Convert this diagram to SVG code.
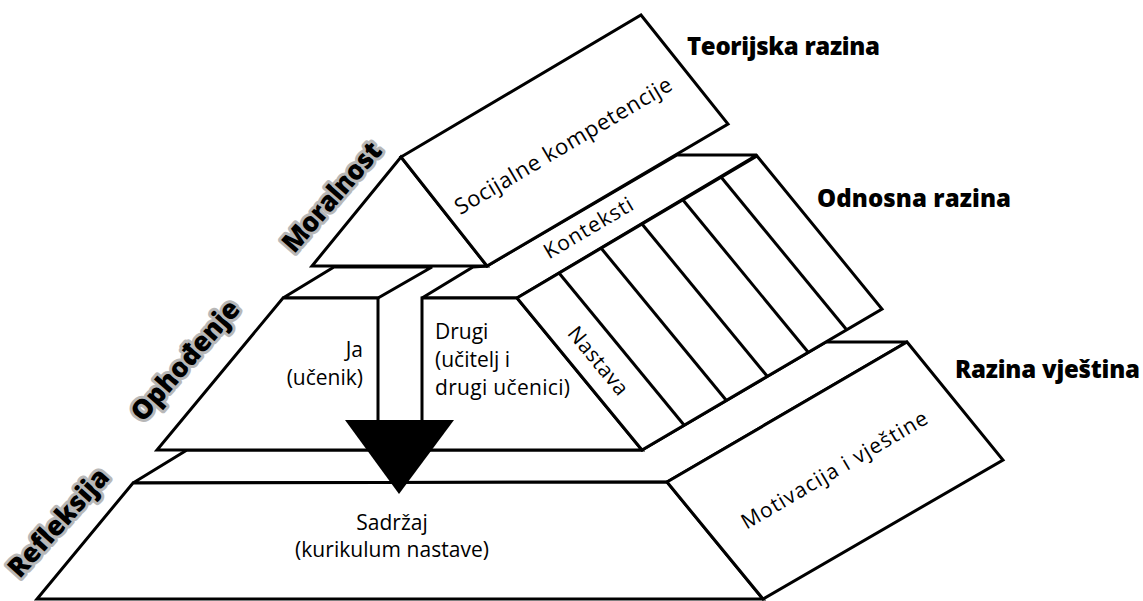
<svg xmlns="http://www.w3.org/2000/svg" width="1143" height="601" viewBox="0 0 1143 601">
<style>
.f{fill:#fff;stroke:#000;stroke-width:3;stroke-linejoin:miter;stroke-miterlimit:3}
.ln{fill:none;stroke:#000;stroke-width:3}
.t{font-family:"Open Sans","Noto Sans","Liberation Sans",sans-serif;font-size:21px;fill:#000}
.b{font-family:"Open Sans","Noto Sans","Liberation Sans",sans-serif;font-weight:800;font-size:24px;fill:#000}
.h{font-family:"Open Sans","Noto Sans","Liberation Sans",sans-serif;font-weight:800;font-size:27px;fill:#000;stroke:#b8b8b8;stroke-width:6;paint-order:stroke;stroke-linejoin:round}
</style>
<rect width="1143" height="601" fill="#fff"/>
<g id="level3">
  <polygon class="f" points="133,483 187,450 642,450 826,342 907,342 667,482"/>
  <polygon class="f" points="133,483 667,482 763,599 37,599"/>
  <polygon class="f" points="667,482 907,342 1003,460 763,599"/>
  <text class="t" x="392" y="530" text-anchor="middle">Sadržaj</text>
  <text class="t" x="392" y="557" text-anchor="middle" textLength="194">(kurikulum nastave)</text>
  <text class="t" transform="translate(835,471) rotate(-30.4)" x="0" y="6" text-anchor="middle" textLength="212">Motivacija i vještine</text>
</g>
<g id="level2">
  <polygon class="f" points="283,298 334,267 432,267 378,298"/>
  <polygon class="f" points="422,298 473,267 487,266 677,155 757,155 517,298"/>
  <polygon class="f" points="283,298 378,298 378,450 157,450"/>
  <polygon class="f" points="422,298 517,298 642,450 422,450"/>
  <polygon class="f" points="517,298 757,156 882,309 642,450"/>
  <g class="ln">
    <line x1="559" y1="273" x2="684" y2="425"/>
    <line x1="601" y1="248" x2="726" y2="400"/>
    <line x1="642" y1="224" x2="767" y2="376"/>
    <line x1="683" y1="200" x2="808" y2="352"/>
    <line x1="721" y1="177" x2="846" y2="329"/>
  </g>
  <text class="t" x="363" y="357" text-anchor="end">Ja</text>
  <text class="t" x="363" y="385" text-anchor="end">(učenik)</text>
  <text class="t" x="435" y="339">Drugi</text>
  <text class="t" x="435" y="367">(učitelj i</text>
  <text class="t" x="435" y="395" textLength="135">drugi učenici)</text>
  <text class="t" transform="translate(589,229) rotate(-30.6)" x="0" y="6" text-anchor="middle" textLength="100">Konteksti</text>
  <text class="t" transform="translate(598,361) rotate(50.6)" x="0" y="7" text-anchor="middle" textLength="82">Nastava</text>
</g>
<g id="level1">
  <polygon class="f" points="401,157 312,266 487,266"/>
  <polygon class="f" points="401,157 641,15 728,124 487,266"/>
  <text class="t" style="font-size:22px" transform="translate(564,147) rotate(-30.6)" x="0" y="6" text-anchor="middle" textLength="248">Socijalne kompetencije</text>
</g>
<g id="arrow">
  <polygon points="345,420 454,420 399,494" fill="#000"/>
</g>
<g id="labels">
  <text class="b" x="687" y="55" textLength="193">Teorijska razina</text>
  <text class="b" x="817" y="207" textLength="194">Odnosna razina</text>
  <text class="b" x="955" y="378" textLength="185">Razina vještina</text>
  <text class="h" transform="translate(332,197) rotate(-49)" x="0" y="9" text-anchor="middle" textLength="136">Moralnost</text>
  <text class="h" transform="translate(187,362) rotate(-49)" x="0" y="7" text-anchor="middle" textLength="150">Ophođenje</text>
  <text class="h" transform="translate(60,524) rotate(-48)" x="0" y="7" text-anchor="middle" textLength="136">Refleksija</text>
</g>
</svg>
